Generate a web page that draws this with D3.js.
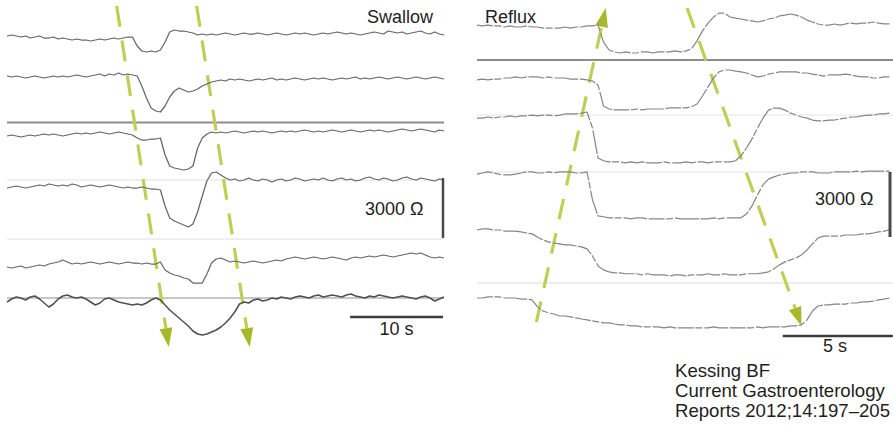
<!DOCTYPE html>
<html>
<head>
<meta charset="utf-8">
<script src="https://cdn.jsdelivr.net/npm/d3@7"></script>
<style>
  body { margin: 0; background: #fff; }
  svg text { font-family: "Liberation Sans", Arial, sans-serif; font-size: 18px; fill: #1e1e1e; }
</style>
</head>
<body>
<svg id="chart" width="893" height="427"></svg>
<script>
// ---- data: impedance (ohm) sampled at a fixed step ----
// Swallow panel, one sample every 0.5 s
const swallowStep = 0.5;
const swallowCh1 = [2550,2600,2550,2500,2550,2450,2500,2550,2450,2450,2500,2400,2450,2400,2350,2400,2350,2350,2300,2350,2400,2350,2400,2450,2400,2450,2500,2500,
  2050,1800,1750,1800,1750,1850,2250,2750,2850,2800,2800,2750,2700,2600,2650,2600,
  2650,2600,2650,2700,2650,2600,2650,2700,2650,2650,2700,2650,2600,2650,2700,2650,2600,2650,2700,2650,2700,2650,2600,2650,2700,2650,2700,2750,2700,2650,
  2700,2650,2600,2650,2700,2750,2700,2650,2800,2750,2700,2750,2650,2700,2750,2800,2700,2650,2750,2650,2600];
const swallowCh2 = [2550,2500,2550,2500,2450,2500,2550,2500,2450,2500,2550,2500,2550,2500,2550,2600,2550,2500,2550,2600,2650,2550,2650,2600,2700,2600,2650,2600,
  2550,2050,1450,950,800,750,1050,1500,1800,1950,1850,1750,1800,1900,2050,2150,2250,2300,
  2350,2300,2400,2350,2400,2350,2300,2350,2400,2350,2400,2450,2350,2400,2350,2400,2450,2400,2350,2400,2450,2400,2450,2400,2350,2400,2450,2400,2450,2500,
  2400,2450,2400,2450,2500,2450,2400,2450,2500,2450,2400,2450,2500,2450,2400,2450,2500,2450,2400];
const swallowCh3 = [2450,2500,2450,2400,2450,2500,2450,2500,2550,2500,2550,2500,2450,2500,2550,2600,2550,2600,2550,2600,2650,2600,2550,2600,2650,2600,2550,2500,
  2350,2250,2250,2300,2300,2350,1500,950,850,800,750,800,950,1850,2350,2550,2650,2600,
  2650,2600,2650,2700,2650,2600,2650,2700,2650,2700,2650,2600,2650,2700,2650,2700,2650,2700,2750,2700,2650,2700,2650,2700,2750,2700,2650,2700,2750,2700,
  2650,2700,2750,2700,2750,2700,2650,2700,2750,2800,2750,2700,2750,2800,2750,2700,2650,2750,2700];
const swallowCh4 = [2450,2500,2550,2500,2450,2500,2550,2600,2550,2650,2600,2550,2600,2550,2650,2600,2500,2550,2600,2550,2500,2550,2600,2550,2500,2450,2500,2450,
  2450,2500,2450,2400,2400,2350,1550,950,800,700,600,500,650,1250,2050,2800,3200,3250,3100,2950,
  2850,2900,2800,2850,2950,2850,2800,2900,2850,2750,2850,2900,2800,2850,2950,2900,2800,2850,2900,2850,2950,2850,2800,2900,2950,2850,2900,2800,2850,2950,
  3000,2900,2850,2950,2900,2800,2850,2950,3000,2900,2850,2950,2900,2850,2800,2900,2850];
const swallowCh5 = [2500,2450,2500,2550,2450,2500,2550,2600,2550,2650,2700,2750,2850,2750,2650,2700,2650,2700,2750,2700,2650,2700,2750,2700,2650,2700,2750,2700,
  2700,2650,2700,2650,2650,2750,2350,2200,2100,2050,1950,1900,1700,1700,1700,2150,2700,2900,2950,2850,
  2750,2800,2750,2700,2750,2800,2750,2700,2750,2800,2850,2800,2900,2950,3000,2950,2900,2950,3000,2950,2900,2950,3000,2950,2900,2850,2950,3000,2950,3000,
  3050,3000,3050,3100,3050,3000,3050,3100,3150,3200,3150,3200,3100,3000,2950,3000,2950];
const swallowCh6 = [2400,2550,2650,2600,2500,2650,2700,2550,2350,2150,2300,2550,2700,2750,2650,2600,2650,2550,2400,2250,2350,2550,2600,2500,2400,2350,2300,2250,
  2300,2250,2350,2500,2600,2500,2250,2000,1800,1600,1400,1200,950,800,750,800,900,1000,1150,1350,1600,1900,2300,2400,
  2350,2500,2550,2450,2500,2600,2550,2650,2600,2550,2650,2700,2650,2600,2700,2750,2650,2700,2750,2700,2650,2750,2800,2700,2650,2600,2700,2650,2750,2700,
  2650,2600,2650,2700,2650,2600,2550,2650,2700,2600,2450,2550,2650];

// Reflux panel, one sample every 0.25 s
const refluxStep = 0.25;
const refluxCh1 = [2590,2550,2590,2550,2550,2500,2550,2500,2500,2550,2500,2500,2450,2450,2450,2450,2500,2450,2500,2500,2550,2550,2590,
  1810,1440,1350,1300,1350,1300,1300,1350,1350,1300,1350,1350,1350,1400,1350,1400,1490,
  1860,2320,2680,2960,3140,3140,2960,2910,2870,2820,2780,2730,2780,2870,2910,3010,3050,3100,3050,2960,
  2820,2730,2640,2590,2590,2640,2590,2640,2680,2640,2680,2680,2730,2680,2640,2640];
const refluxCh2 = [2410,2450,2410,2450,2450,2500,2500,2550,2500,2550,2550,2550,2500,2550,2500,2500,2500,2450,2450,2450,
  2410,2360,2180,1210,1070,1030,1030,1030,1030,1070,1030,1070,1070,1070,1070,1120,1120,1120,1120,1170,
  1300,1670,2090,2500,2780,2870,2870,2820,2780,2730,2640,2550,2590,2680,2730,2780,2780,2780,2780,2730,
  2730,2680,2640,2590,2640,2640,2640,2680,2640,2590,2550,2550,2500,2500,2550,2550];
const refluxCh3 = [2450,2450,2500,2450,2500,2500,2550,2500,2550,2550,2590,2550,2590,2590,2550,2590,2640,2640,2640,2680,
  2730,1990,610,480,430,430,430,380,430,380,430,380,380,380,430,380,380,380,430,380,
  430,430,380,430,430,430,430,480,710,1070,1490,1990,2450,2820,2910,2910,2820,2680,2590,2500,
  2450,2360,2320,2320,2360,2360,2410,2450,2500,2500,2550,2590,2590,2640,2640,2680];
const refluxCh4 = [2450,2500,2550,2500,2450,2410,2410,2450,2500,2550,2550,2500,2500,2550,2500,2550,2550,2550,2500,2500,
  2550,1260,520,480,430,430,430,430,380,430,430,380,380,380,380,380,430,380,380,380,
  380,380,380,430,380,430,430,430,430,610,980,1490,1950,2220,2320,2410,2450,2500,2500,2550,
  2550,2550,2500,2500,2500,2550,2550,2550,2550,2590,2550,2590,2590,2590,2590,2590];
const refluxCh5 = [2500,2550,2550,2500,2500,2450,2450,2450,2410,2360,2320,2180,2040,1950,1900,1860,1810,1810,1760,1720,
  1630,1300,840,660,570,520,520,480,480,480,430,480,430,430,430,380,430,430,380,430,
  430,430,480,430,430,480,430,430,430,480,480,480,520,570,710,890,1030,1120,1210,1350,
  1580,1860,2130,2220,2220,2220,2220,2270,2270,2270,2320,2320,2360,2410,2450,2500];
const refluxCh6 = [2500,2500,2550,2550,2550,2500,2500,2500,2450,2450,2410,2090,1900,1810,1760,1670,1670,1630,1580,1530,
  1490,1440,1400,1350,1350,1300,1260,1260,1210,1210,1170,1170,1170,1170,1120,1170,1120,1120,1120,1120,
  1120,1120,1120,1170,1120,1120,1120,1120,1120,1120,1120,1170,1120,1170,1170,1170,1170,1210,1210,1260,
  1490,1900,2130,2180,2180,2220,2220,2220,2270,2270,2320,2320,2360,2410,2450,2500];

// bolus arrows: time (s) where each dashed arrow starts and where its head ends
const swallowArrows = [{ t0: 11.8, t1: 17.4 }, { t0: 20.4, t1: 26.1 }];
const refluxArrows = [{ t0: 2.7, t1: 5.85, up: true }, { t0: 9.55, t1: 14.75, up: false }];

const citation = ['Kessing BF', 'Current Gastroenterology', 'Reports 2012;14:197\u2013205'];

// ---- drawing ----
const svg = d3.select('#chart');
const arrowColor = '#c2cd55';
const headColor = '#a9b82a';

// left panel scales
const xL = d3.scaleLinear().domain([0, 47]).range([7, 444]);
const leftBase = [37, 77, 135, 187, 267, 300];   // pixel row of 2500 ohm per channel
const ohmPxL = 60 / 3000;
const yL = leftBase.map(b => d3.scaleLinear().domain([0, 3000]).range([b + 2500 * ohmPxL, b - 500 * ohmPxL]));

// right panel scales
const xR = d3.scaleLinear().domain([0, 18.9]).range([477, 477 + 18.9 * 22]);
const rightBase = [27, 78, 117, 173, 230, 298];
const ohmPxR = 65 / 3000;
const yR = rightBase.map(b => d3.scaleLinear().domain([0, 3000]).range([b + 2500 * ohmPxR, b - 500 * ohmPxR]));

// faint separator lines
const sep = svg.append('g');
[[122.5, '#8d8d8d', 2], [180, '#e2e2e2', 1], [239, '#dedede', 1], [298, '#b4b4b4', 1.3]].forEach(([y, c, w]) =>
  sep.append('line').attr('x1', 7).attr('x2', 444).attr('y1', y).attr('y2', y).attr('stroke', c).attr('stroke-width', w));
[[60, '#8d8d8d', 2], [115, '#e4e4e4', 1], [172, '#e4e4e4', 1], [283, '#dcdcdc', 1]].forEach(([y, c, w]) =>
  sep.append('line').attr('x1', 477).attr('x2', 893).attr('y1', y).attr('y2', y).attr('stroke', c).attr('stroke-width', w));

// arrows (drawn under the traces)
function drawArrow(g, x0, y0, x1, y1) {
  const dx = x1 - x0, dy = y1 - y0, len = Math.hypot(dx, dy);
  const ux = dx / len, uy = dy / len;
  const hl = 19, hw = 6.5;
  const bx = x1 - ux * hl, by = y1 - uy * hl;
  g.append('line')
    .attr('x1', x0).attr('y1', y0).attr('x2', bx).attr('y2', by)
    .attr('stroke', arrowColor).attr('stroke-width', 3.2)
    .attr('stroke-dasharray', '21,14');
  g.append('path')
    .attr('d', `M${x1},${y1}L${bx - uy * hw},${by + ux * hw}L${bx + uy * hw},${by - ux * hw}Z`)
    .attr('fill', headColor);
}
const arrows = svg.append('g');
swallowArrows.forEach(a => drawArrow(arrows, xL(a.t0), 6, xL(a.t1), 347));
refluxArrows.forEach(a => a.up
  ? drawArrow(arrows, xR(a.t0), 322, xR(a.t1), 8)
  : drawArrow(arrows, xR(a.t0), 8, xR(a.t1), 326));

// traces
const swallow = [swallowCh1, swallowCh2, swallowCh3, swallowCh4, swallowCh5, swallowCh6];
const reflux = [refluxCh1, refluxCh2, refluxCh3, refluxCh4, refluxCh5, refluxCh6];

swallow.forEach((vals, i) => {
  const line = d3.line().x((d, j) => xL(j * swallowStep)).y(d => yL[i](d));
  svg.append('path').datum(vals)
    .attr('d', line)
    .attr('fill', 'none')
    .attr('stroke', i === 5 ? '#505050' : '#666')
    .attr('stroke-width', i === 5 ? 1.5 : 1.25)
    .attr('stroke-linejoin', 'round');
});

reflux.forEach((vals, i) => {
  const line = d3.line().x((d, j) => xR(j * refluxStep)).y(d => yR[i](d));
  svg.append('path').datum(vals)
    .attr('d', line)
    .attr('fill', 'none')
    .attr('stroke', '#858585')
    .attr('stroke-width', 1.2)
    .attr('stroke-dasharray', '16,1.5,7,2,24,1.5')
    .attr('stroke-linejoin', 'round');
});

// scale bars
const barL = d3.scaleLinear().domain([0, 3000]).range([238, 178]);
svg.append('line').attr('x1', 443).attr('x2', 443).attr('y1', barL(0)).attr('y2', barL(3000))
  .attr('stroke', '#4a4a4a').attr('stroke-width', 2.5);
svg.append('line').attr('x1', xL(36.9)).attr('x2', xL(46.9)).attr('y1', 317).attr('y2', 317)
  .attr('stroke', '#3c3c3c').attr('stroke-width', 2.5);

const barR = d3.scaleLinear().domain([0, 3000]).range([237, 172]);
svg.append('line').attr('x1', 890).attr('x2', 890).attr('y1', barR(0)).attr('y2', barR(3000))
  .attr('stroke', '#4a4a4a').attr('stroke-width', 3);
svg.append('line').attr('x1', xR(13.9)).attr('x2', xR(18.9)).attr('y1', 336).attr('y2', 336)
  .attr('stroke', '#3c3c3c').attr('stroke-width', 2.5);

// labels
svg.append('text').attr('x', 367).attr('y', 23).text('Swallow');
svg.append('text').attr('x', 485).attr('y', 23).text('Reflux');
svg.append('text').attr('x', 365).attr('y', 215).text('3000 \u03A9');
svg.append('text').attr('x', 815).attr('y', 205).text('3000 \u03A9');
svg.append('text').attr('x', (xL(36.9) + xL(46.9)) / 2).attr('y', 335).attr('text-anchor', 'middle').text('10 s');
svg.append('text').attr('x', 835).attr('y', 352).attr('text-anchor', 'middle').text('5 s');

svg.append('g').selectAll('text').data(citation).enter().append('text')
  .attr('x', 675).attr('y', (d, i) => 377 + i * 20)
  .style('font-size', '18.6px')
  .text(d => d);
</script>
</body>
</html>
